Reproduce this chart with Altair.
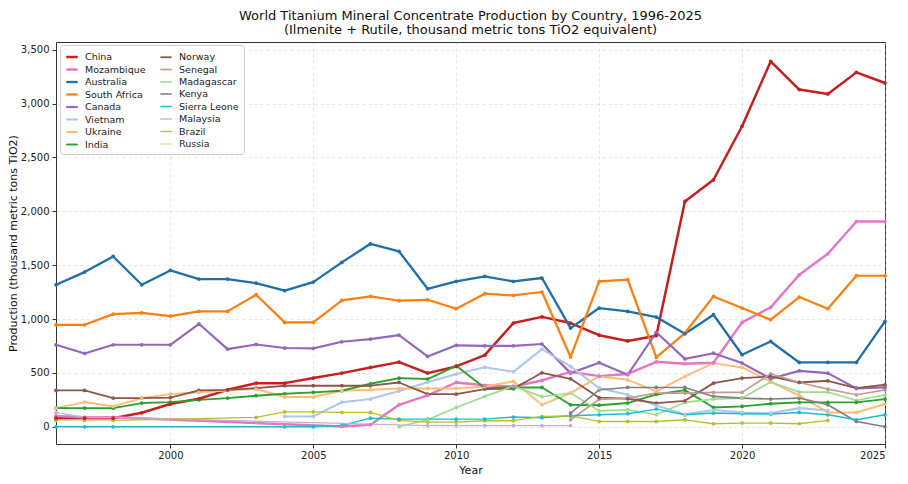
import altair as alt
import pandas as pd

years = list(range(1996, 2026))
N = None

countries = ["China", "Mozambique", "Australia", "South Africa", "Canada", "Vietnam",
             "Ukraine", "India", "Norway", "Senegal", "Madagascar", "Kenya",
             "Sierra Leone", "Malaysia", "Brazil", "Russia"]
colors = ["#c81e1e", "#e377c2", "#1f6fa8", "#ff7f0e", "#9467bd", "#aec7e8",
          "#ffbb78", "#2ca02c", "#8c564b", "#c49c94", "#98df8a", "#7f7f7f",
          "#17becf", "#c5b0d5", "#bcbd22", "#dbdb8d"]
widths = [2.5, 1.2, 2.5, 2.5, 1.2, 1.2, 1.2, 2.5, 1.2, 1.2, 1.2, 1.2, 1.2, 1.2, 1.2, 1.2]

china = [80, 80, 80, 130, 211, 260, 343, 405, 405, 452, 498, 551, 600, 498, 560,
         665, 963, 1020, 963, 850, 797, 845, 2092, 2293, 2790, 3392, 3130, 3090, 3290, 3191]
mozambique = [100, 88, 88, N, N, N, N, N, N, N, 3, 19, 204, 291, 411,
              385, 374, 430, 510, 470, 490, 603, 585, 594, 969, 1108, 1411, 1606, 1905, 1905]
australia = [1318, 1436, 1581, 1318, 1451, 1371, 1371, 1334, 1263, 1343, 1526, 1699, 1628, 1281, 1349,
             1396, 1349, 1381, 916, 1102, 1071, 1018, 863, 1040, 669, 792, 597, 597, 597, 978]
south_africa = [947, 947, 1046, 1058, 1027, 1071, 1071, 1226, 969, 969, 1173, 1210, 1170, 1179, 1096,
                1235, 1219, 1251, 647, 1349, 1365, 644, 870, 1210, 1102, 994, 1204, 1096, 1402, 1402]
canada = [761, 681, 761, 761, 761, 956, 721, 764, 731, 728, 789, 814, 851, 653, 756,
          751, 751, 768, 498, 595, 483, 877, 630, 683, 591, 446, 519, 498, 355, 366]
vietnam = [N, N, N, N, N, N, N, N, 96, 96, 228, 257, 331, 413, 489,
           552, 510, 721, 560, 359, 297, 197, 115, 155, 132, 127, 173, 151, N, N]
ukraine = [173, 229, 189, 266, 303, 320, 337, 350, 276, 276, 335, 343, 356, 356, 356,
           374, 421, 204, 313, 467, 436, 328, 467, 591, 551, 420, 290, 133, 133, 211]
india = [173, 173, 173, 220, 229, 250, 266, 288, 306, 319, 334, 399, 452, 443, 566,
         359, 365, 365, 204, 200, 220, 300, 340, 179, 189, 214, 226, 226, 226, 257]
norway = [337, 337, 266, 266, 270, 337, 343, 359, 381, 381, 381, 381, 411, 303, 303,
          350, 353, 501, 445, 270, 260, 220, 241, 405, 452, 467, 411, 427, 359, 390]
senegal = [N, N, N, N, N, N, N, N, N, N, N, N, N, N, N,
           N, N, N, 65, 255, 266, 313, 313, 319, 319, 492, 411, 350, 297, 343]
madagascar = [N, N, N, N, N, N, N, N, N, N, N, N, 0, 65, 179,
              282, 378, 279, 313, 147, 158, 111, 226, 257, 266, 415, 322, 322, 244, 297]
kenya = [N, N, N, N, N, N, N, N, N, N, N, N, N, N, N,
         N, N, N, 127, 343, 365, 365, 365, 282, 266, 257, 266, 204, 49, 0]
sierra_leone = [0, 0, 0, N, N, N, N, N, 0, 0, 12, 80, 71, 71, 71,
                71, 90, 84, 102, 111, 121, 164, 111, 127, 121, 118, 133, 111, 65, 111]
malaysia = [133, 87, 87, N, N, N, N, N, N, N, N, N, N, 10, 10,
            10, 10, 10, 10, N, N, N, N, N, N, N, N, N, N, N]
brazil = [59, 59, 59, N, N, N, N, 87, 139, 139, 133, 133, 59, 44, 44,
          56, 56, 96, 102, 49, 49, 49, 65, 28, 34, 34, 28, 59, N, N]
russia = [60, 60, 60, N, N, N, N, N, N, N, N, N, N, N, N,
          N, N, N, N, N, N, N, N, N, N, N, N, N, N, N]

series = [china, mozambique, australia, south_africa, canada, vietnam, ukraine, india,
          norway, senegal, madagascar, kenya, sierra_leone, malaysia, brazil, russia]

rows = []
for idx, (name, vals) in enumerate(zip(countries, series)):
    for y, v in zip(years, vals):
        if v is not None:
            rows.append({"Country": name, "Year": y, "Value": v, "order": idx})
df = pd.DataFrame(rows)

font = "DejaVu Sans"

chart = alt.Chart(df).mark_line(
    point=alt.OverlayMarkDef(size=14, filled=True, opacity=1),
    strokeJoin="round",
).encode(
    x=alt.X("Year:Q",
            scale=alt.Scale(domain=[1996, 2025], nice=False, zero=False),
            axis=alt.Axis(values=[2000, 2005, 2010, 2015, 2020, 2025], format="d",
                          title="Year", grid=True)),
    y=alt.Y("Value:Q",
            scale=alt.Scale(domain=[-160, 3572], nice=False, zero=False),
            axis=alt.Axis(values=[0, 500, 1000, 1500, 2000, 2500, 3000, 3500], format=",.0f",
                          title="Production (thousand metric tons TiO2)", grid=True,
                          titleX=-38, titleY=201, titleBaseline="bottom",
                          titleAlign="center", titleAngle=270)),
    color=alt.Color("Country:N",
                    scale=alt.Scale(domain=countries, range=colors),
                    legend=alt.Legend(title=None, orient="none", legendX=4, legendY=3,
                                      columns=2, columnPadding=10, rowPadding=0.5,
                                      symbolType="stroke", symbolSize=130,
                                      labelFont=font, labelFontSize=9.5, labelColor="#222",
                                      labelOffset=6,
                                      fillColor="white", strokeColor="#cccccc",
                                      padding=5, cornerRadius=3, offset=0)),
    strokeWidth=alt.StrokeWidth("Country:N",
                                scale=alt.Scale(domain=countries, range=widths)),
    order=alt.Order("order:Q", sort="descending"),
).properties(
    width=829,
    height=402,
    title=alt.Title(
        text=["World Titanium Mineral Concentrate Production by Country, 1996-2025",
              "(Ilmenite + Rutile, thousand metric tons TiO2 equivalent)"],
        font=font, fontSize=13, fontWeight="normal", color="#111",
        anchor="middle", offset=5, lineHeight=14,
    ),
    autosize=alt.AutoSizeParams(type="none"),
    padding={"left": 48, "top": 34, "right": 15, "bottom": 32},
).configure_view(
    stroke="#333333", strokeWidth=1
).configure_axis(
    labelFont=font, titleFont=font, labelFontSize=10, titleFontSize=11,
    labelColor="#222", titleColor="#111", titleFontWeight="normal",
    domain=False, tickColor="#333", tickSize=4,
    gridColor="#bbbbbb", gridDash=[3, 3], gridOpacity=0.6, gridWidth=0.6,
).configure_axisY(labelPadding=3)

chart.save("out.html", embed_options={"renderer": "svg", "actions": False})
